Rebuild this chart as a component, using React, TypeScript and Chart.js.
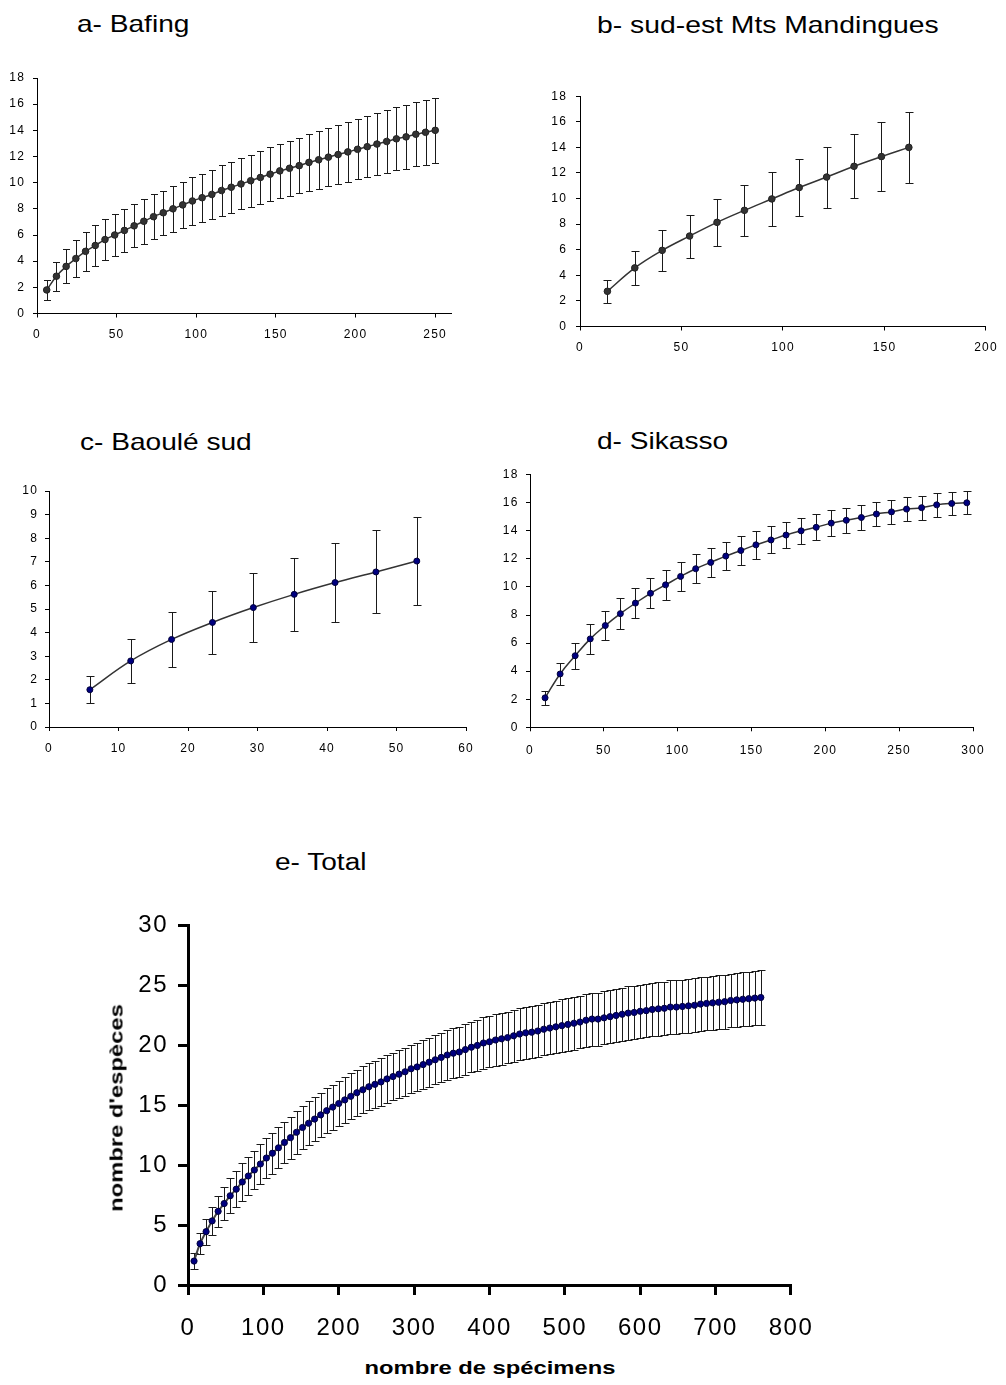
import React, { useEffect, useRef } from "react";
import { Chart, registerables } from "chart.js";

Chart.register(...registerables);

const FONT = "'Liberation Sans', Arial, Helvetica, sans-serif";

// ---------- a- Bafing ----------
const bafingX = [6.1, 12.2, 18.3, 24.4, 30.5, 36.6, 42.7, 48.8, 54.9, 61.0, 67.1, 73.2, 79.3, 85.4, 91.5, 97.6, 103.7, 109.8, 115.9, 122.0, 128.1, 134.2, 140.3, 146.4, 152.5, 158.6, 164.7, 170.8, 176.9, 183.0, 189.1, 195.2, 201.3, 207.4, 213.5, 219.6, 225.7, 231.8, 237.9, 244.0, 250.1];
const bafingY = [1.8, 2.85, 3.6, 4.2, 4.75, 5.2, 5.65, 6.0, 6.35, 6.7, 7.05, 7.4, 7.7, 8.0, 8.3, 8.6, 8.85, 9.1, 9.4, 9.65, 9.9, 10.15, 10.4, 10.65, 10.9, 11.1, 11.3, 11.55, 11.75, 11.95, 12.15, 12.35, 12.55, 12.75, 12.95, 13.15, 13.35, 13.5, 13.7, 13.85, 14.0];
const bafingSd = [0.75, 1.1, 1.3, 1.4, 1.5, 1.55, 1.55, 1.6, 1.65, 1.65, 1.7, 1.7, 1.7, 1.75, 1.75, 1.8, 1.85, 1.9, 1.95, 1.95, 1.95, 2.0, 2.0, 2.05, 2.05, 2.1, 2.1, 2.15, 2.2, 2.2, 2.25, 2.3, 2.3, 2.35, 2.35, 2.4, 2.4, 2.45, 2.45, 2.5, 2.5];
const bafingXTicks = [0, 50, 100, 150, 200, 250];
const bafingYTicks = [0, 2, 4, 6, 8, 10, 12, 14, 16, 18];

// ---------- b- sud-est Mts Mandingues ----------
const mandX = [13.5, 27, 40.5, 54, 67.5, 81, 94.5, 108, 121.5, 135, 148.5, 162];
const mandY = [2.75, 4.58, 5.95, 7.07, 8.14, 9.08, 9.97, 10.86, 11.68, 12.52, 13.28, 14.0];
const mandSd = [0.92, 1.3, 1.58, 1.68, 1.86, 1.98, 2.13, 2.25, 2.38, 2.5, 2.68, 2.8];
const mandXTicks = [0, 50, 100, 150, 200];
const mandYTicks = [0, 2, 4, 6, 8, 10, 12, 14, 16, 18];

// ---------- c- Baoulé sud ----------
const baouleX = [5.88, 11.76, 17.64, 23.52, 29.4, 35.28, 41.16, 47.04, 52.92];
const baouleY = [1.58, 2.8, 3.71, 4.43, 5.06, 5.62, 6.12, 6.57, 7.03];
const baouleSd = [0.57, 0.94, 1.17, 1.34, 1.45, 1.55, 1.66, 1.76, 1.86];
const baouleXTicks = [0, 10, 20, 30, 40, 50, 60];
const baouleYTicks = [0, 1, 2, 3, 4, 5, 6, 7, 8, 9, 10];

// ---------- d- Sikasso ----------
const sikassoX = [10.2, 20.4, 30.6, 40.8, 51.0, 61.2, 71.4, 81.6, 91.8, 102.0, 112.2, 122.4, 132.6, 142.8, 153.0, 163.2, 173.4, 183.6, 193.8, 204.0, 214.2, 224.4, 234.6, 244.8, 255.0, 265.2, 275.4, 285.6, 295.8];
const sikassoY = [2.1, 3.8, 5.1, 6.3, 7.25, 8.1, 8.85, 9.55, 10.15, 10.75, 11.3, 11.75, 12.2, 12.6, 13.0, 13.35, 13.7, 14.0, 14.25, 14.55, 14.75, 14.95, 15.2, 15.35, 15.55, 15.65, 15.85, 15.95, 16.0];
const sikassoSd = [0.5, 0.78, 0.93, 1.05, 1.06, 1.08, 1.08, 1.06, 1.05, 1.05, 1.03, 1.02, 1.0, 1.0, 0.98, 0.96, 0.95, 0.93, 0.92, 0.9, 0.88, 0.88, 0.86, 0.85, 0.85, 0.85, 0.85, 0.85, 0.83];
const sikassoXTicks = [0, 50, 100, 150, 200, 250, 300];
const sikassoYTicks = [0, 2, 4, 6, 8, 10, 12, 14, 16, 18];

// ---------- e- Total ----------
const totalX = [8, 16, 24, 32, 40, 48, 56, 64, 72, 80, 88, 96, 104, 112, 120, 128, 136, 144, 152, 160, 168, 176, 184, 192, 200, 208, 216, 224, 232, 240, 248, 256, 264, 272, 280, 288, 296, 304, 312, 320, 328, 336, 344, 352, 360, 368, 376, 384, 392, 400, 408, 416, 424, 432, 440, 448, 456, 464, 472, 480, 488, 496, 504, 512, 520, 528, 536, 544, 552, 560, 568, 576, 584, 592, 600, 608, 616, 624, 632, 640, 648, 656, 664, 672, 680, 688, 696, 704, 712, 720, 728, 736, 744, 752, 760];
const totalY = [2.0, 3.45, 4.45, 5.35, 6.15, 6.8, 7.45, 8.0, 8.6, 9.1, 9.6, 10.1, 10.6, 11.0, 11.45, 11.9, 12.3, 12.75, 13.15, 13.5, 13.85, 14.2, 14.55, 14.85, 15.15, 15.45, 15.75, 16.05, 16.3, 16.55, 16.75, 16.95, 17.2, 17.4, 17.6, 17.8, 18.05, 18.2, 18.4, 18.6, 18.8, 19.0, 19.2, 19.35, 19.45, 19.65, 19.85, 20.0, 20.2, 20.3, 20.45, 20.55, 20.65, 20.8, 20.95, 21.05, 21.1, 21.2, 21.35, 21.45, 21.55, 21.65, 21.75, 21.85, 21.95, 22.1, 22.2, 22.2, 22.3, 22.4, 22.5, 22.6, 22.7, 22.75, 22.85, 22.9, 23.0, 23.05, 23.1, 23.2, 23.2, 23.25, 23.3, 23.35, 23.45, 23.5, 23.55, 23.6, 23.65, 23.75, 23.8, 23.85, 23.9, 23.95, 24.0];
const totalSd = [0.65, 0.9, 1.1, 1.2, 1.3, 1.4, 1.45, 1.5, 1.55, 1.6, 1.62, 1.65, 1.68, 1.7, 1.72, 1.74, 1.76, 1.78, 1.8, 1.82, 1.84, 1.85, 1.87, 1.88, 1.9, 1.91, 1.92, 1.93, 1.94, 1.95, 1.96, 1.97, 1.98, 1.99, 2.0, 2.0, 2.01, 2.02, 2.03, 2.04, 2.05, 2.06, 2.07, 2.08, 2.09, 2.1, 2.11, 2.12, 2.13, 2.14, 2.15, 2.15, 2.16, 2.16, 2.17, 2.17, 2.18, 2.18, 2.18, 2.19, 2.19, 2.19, 2.2, 2.2, 2.2, 2.2, 2.21, 2.21, 2.21, 2.21, 2.22, 2.22, 2.22, 2.22, 2.22, 2.23, 2.23, 2.23, 2.23, 2.23, 2.24, 2.24, 2.24, 2.24, 2.24, 2.25, 2.25, 2.25, 2.25, 2.25, 2.25, 2.26, 2.26, 2.26, 2.26];
const totalXTicks = [0, 100, 200, 300, 400, 500, 600, 700, 800];
const totalYTicks = [0, 5, 10, 15, 20, 25, 30];

const titles = ["a- Bafing", "b- sud-est Mts Mandingues", "c- Baoulé sud", "d- Sikasso", "e- Total"];
const xAxisTitle = "nombre de spécimens";
const yAxisTitle = "nombre d'espèces";

// ---------- plugins ----------
const errorBarsPlugin = {
  id: "errorBars",
  beforeDatasetsDraw(chart: any, _args: any, opts: any) {
    const ds = chart.data.datasets[0];
    const sd: number[] = ds.errSd || [];
    const xs = chart.scales.x;
    const ys = chart.scales.y;
    const ctx = chart.ctx;
    ctx.save();
    ctx.strokeStyle = opts.color || "#222";
    ctx.lineWidth = opts.width || 1;
    ctx.beginPath();
    ds.data.forEach((p: any, i: number) => {
      const s = sd[i] || 0;
      const px = Math.round(xs.getPixelForValue(p.x)) + 0.5;
      const yt = Math.round(ys.getPixelForValue(p.y + s)) + 0.5;
      const yb = Math.round(ys.getPixelForValue(p.y - s)) + 0.5;
      const c = opts.cap || 3;
      ctx.moveTo(px, yt);
      ctx.lineTo(px, yb);
      ctx.moveTo(px - c, yt);
      ctx.lineTo(px + c, yt);
      ctx.moveTo(px - c, yb);
      ctx.lineTo(px + c, yb);
    });
    ctx.stroke();
    ctx.restore();
  },
};

const spacingPlugin = {
  id: "textSpacing",
  beforeDraw(chart: any, _args: any, opts: any) {
    try {
      (chart.ctx as any).letterSpacing = opts.value || "0px";
    } catch (e) {
      /* ignore */
    }
  },
};

type Box = { left: number; top: number; width: number; height: number };
type Area = { left: number; right: number; top: number; bottom: number };

type Spec = {
  xs: number[];
  ys: number[];
  sd: number[];
  xTicks: number[];
  yTicks: number[];
  xMax: number;
  box: Box;
  area: Area;
  fontSize: number;
  spacing: string;
  tickLen: number;
  axisW: number;
  xPad: number;
  yPad: number;
  lineColor: string;
  lineW: number;
  pointFill: string;
  pointBorder: string;
  pointR: number;
  cap: number;
  errColor: string;
};

const smallStyle = {
  fontSize: 12,
  spacing: "1.2px",
  tickLen: 4,
  axisW: 1,
  lineW: 1.5,
  lineColor: "#333333",
  errColor: "#1a1a1a",
};

const specs: Spec[] = [
  {
    ...smallStyle,
    xs: bafingX, ys: bafingY, sd: bafingSd, xTicks: bafingXTicks, yTicks: bafingYTicks, xMax: 260,
    box: { left: 0, top: 60, width: 472, height: 290 },
    area: { left: 37, right: 451, top: 78, bottom: 313.5 },
    xPad: 10, yPad: 8,
    pointFill: "#333333", pointBorder: "#222222", pointR: 3.3, cap: 3.5,
  },
  {
    ...smallStyle,
    xs: mandX, ys: mandY, sd: mandSd, xTicks: mandXTicks, yTicks: mandYTicks, xMax: 200,
    box: { left: 540, top: 80, width: 466, height: 290 },
    area: { left: 580, right: 992, top: 90, bottom: 326.5 },
    xPad: 10, yPad: 9,
    pointFill: "#333333", pointBorder: "#222222", pointR: 3.3, cap: 4,
  },
  {
    ...smallStyle,
    xs: baouleX, ys: baouleY, sd: baouleSd, xTicks: baouleXTicks, yTicks: baouleYTicks, xMax: 60,
    box: { left: 0, top: 470, width: 484, height: 300 },
    area: { left: 49, right: 466, top: 491, bottom: 727 },
    xPad: 10, yPad: 7,
    pointFill: "#000080", pointBorder: "#00003a", pointR: 3, cap: 4,
  },
  {
    ...smallStyle,
    xs: sikassoX, ys: sikassoY, sd: sikassoSd, xTicks: sikassoXTicks, yTicks: sikassoYTicks, xMax: 300,
    box: { left: 490, top: 460, width: 516, height: 300 },
    area: { left: 530, right: 973, top: 474, bottom: 727.3 },
    xPad: 12, yPad: 7.5,
    pointFill: "#000080", pointBorder: "#00003a", pointR: 3, cap: 4,
  },
  {
    xs: totalX, ys: totalY, sd: totalSd, xTicks: totalXTicks, yTicks: totalYTicks, xMax: 800,
    box: { left: 90, top: 900, width: 740, height: 450 },
    area: { left: 188, right: 792, top: 925.6, bottom: 1285 },
    fontSize: 24, spacing: "1.5px", tickLen: 10, axisW: 3, xPad: 19, yPad: 10,
    lineColor: "#444444", lineW: 2,
    pointFill: "#000080", pointBorder: "#00003a", pointR: 3.1, cap: 4, errColor: "#1a1a1a",
  },
];

function axisOptions(spec: Spec, ticksArr: number[], horizontal: boolean, size: number) {
  return {
    type: "linear",
    min: ticksArr[0],
    max: horizontal ? spec.xMax : ticksArr[ticksArr.length - 1],
    afterBuildTicks: (s: any) => {
      s.ticks = ticksArr.map((v) => ({ value: v }));
    },
    afterFit: (s: any) => {
      if (horizontal) s.height = size;
      else s.width = size;
    },
    grid: {
      display: true,
      drawOnChartArea: false,
      drawTicks: true,
      tickLength: spec.tickLen,
      tickWidth: spec.axisW,
      tickColor: "#000000",
      color: "#000000",
      lineWidth: spec.axisW,
    },
    border: { display: true, color: "#000000", width: spec.axisW },
    ticks: {
      color: "#000000",
      font: { family: FONT, size: spec.fontSize },
      padding: horizontal ? spec.xPad : spec.yPad,
      maxRotation: 0,
      minRotation: 0,
      autoSkip: false,
    },
  };
}

function RareChart({ spec }: { spec: Spec }) {
  const ref = useRef<HTMLCanvasElement | null>(null);
  useEffect(() => {
    if (!ref.current) return;
    const { box, area } = spec;
    const padTop = area.top - box.top;
    const padRight = box.left + box.width - area.right;
    const yW = area.left - box.left;
    const xH = box.top + box.height - area.bottom;
    const chart = new Chart(ref.current, {
      type: "line",
      data: {
        datasets: [
          {
            data: spec.xs.map((x, i) => ({ x, y: spec.ys[i] })),
            errSd: spec.sd,
            borderColor: spec.lineColor,
            borderWidth: spec.lineW,
            tension: 0.4,
            fill: false,
            pointRadius: spec.pointR,
            pointBackgroundColor: spec.pointFill,
            pointBorderColor: spec.pointBorder,
            pointBorderWidth: 1,
          } as any,
        ],
      },
      options: {
        animation: false,
        responsive: false,
        maintainAspectRatio: false,
        events: [],
        layout: {
          padding: { top: padTop, right: padRight, bottom: 0, left: 0 },
          autoPadding: false,
        } as any,
        plugins: {
          legend: { display: false },
          tooltip: { enabled: false },
          title: { display: false },
          errorBars: { cap: spec.cap, color: spec.errColor, width: 1 },
          textSpacing: { value: spec.spacing },
        } as any,
        scales: {
          x: axisOptions(spec, spec.xTicks, true, xH) as any,
          y: axisOptions(spec, spec.yTicks, false, yW) as any,
        },
      },
      plugins: [errorBarsPlugin as any, spacingPlugin as any],
    });
    return () => chart.destroy();
  }, [spec]);
  const { box } = spec;
  return (
    <div style={{ position: "absolute", left: box.left, top: box.top, width: box.width, height: box.height }}>
      <canvas ref={ref} width={box.width} height={box.height} style={{ width: box.width, height: box.height, display: "block" }} />
    </div>
  );
}

function Title({ text, left, top, size, sx }: { text: string; left: number; top: number; size: number; sx: number }) {
  return (
    <div
      style={{
        position: "absolute",
        left,
        top,
        fontFamily: FONT,
        fontSize: size,
        lineHeight: 1,
        whiteSpace: "nowrap",
        color: "#000",
        transform: `scaleX(${sx})`,
        transformOrigin: "0 0",
      }}
    >
      {text}
    </div>
  );
}

export default function App() {
  return (
    <div style={{ position: "absolute", left: 0, top: 0, width: 1006, height: 1385, background: "#ffffff", overflow: "hidden" }}>
      <Title text={titles[0]} left={77} top={11.5} size={24} sx={1.17} />
      <Title text={titles[1]} left={597} top={13} size={24} sx={1.18} />
      <Title text={titles[2]} left={80} top={429.7} size={24} sx={1.17} />
      <Title text={titles[3]} left={597} top={429} size={24} sx={1.17} />
      <Title text={titles[4]} left={275} top={851} size={23} sx={1.22} />
      {specs.map((s, i) => (
        <RareChart key={i} spec={s} />
      ))}
      <div
        style={{
          position: "absolute",
          left: 490,
          top: 1358,
          fontFamily: FONT,
          fontWeight: "bold",
          fontSize: 19,
          lineHeight: 1,
          whiteSpace: "nowrap",
          transform: "translateX(-50%) scaleX(1.25)",
        }}
      >
        {xAxisTitle}
      </div>
      <div
        style={{
          position: "absolute",
          left: 116,
          top: 1108,
          fontFamily: FONT,
          fontWeight: "bold",
          fontSize: 19,
          lineHeight: 1,
          whiteSpace: "nowrap",
          transform: "translate(-50%, -50%) rotate(-90deg) scaleX(1.25)",
        }}
      >
        {yAxisTitle}
      </div>
    </div>
  );
}
